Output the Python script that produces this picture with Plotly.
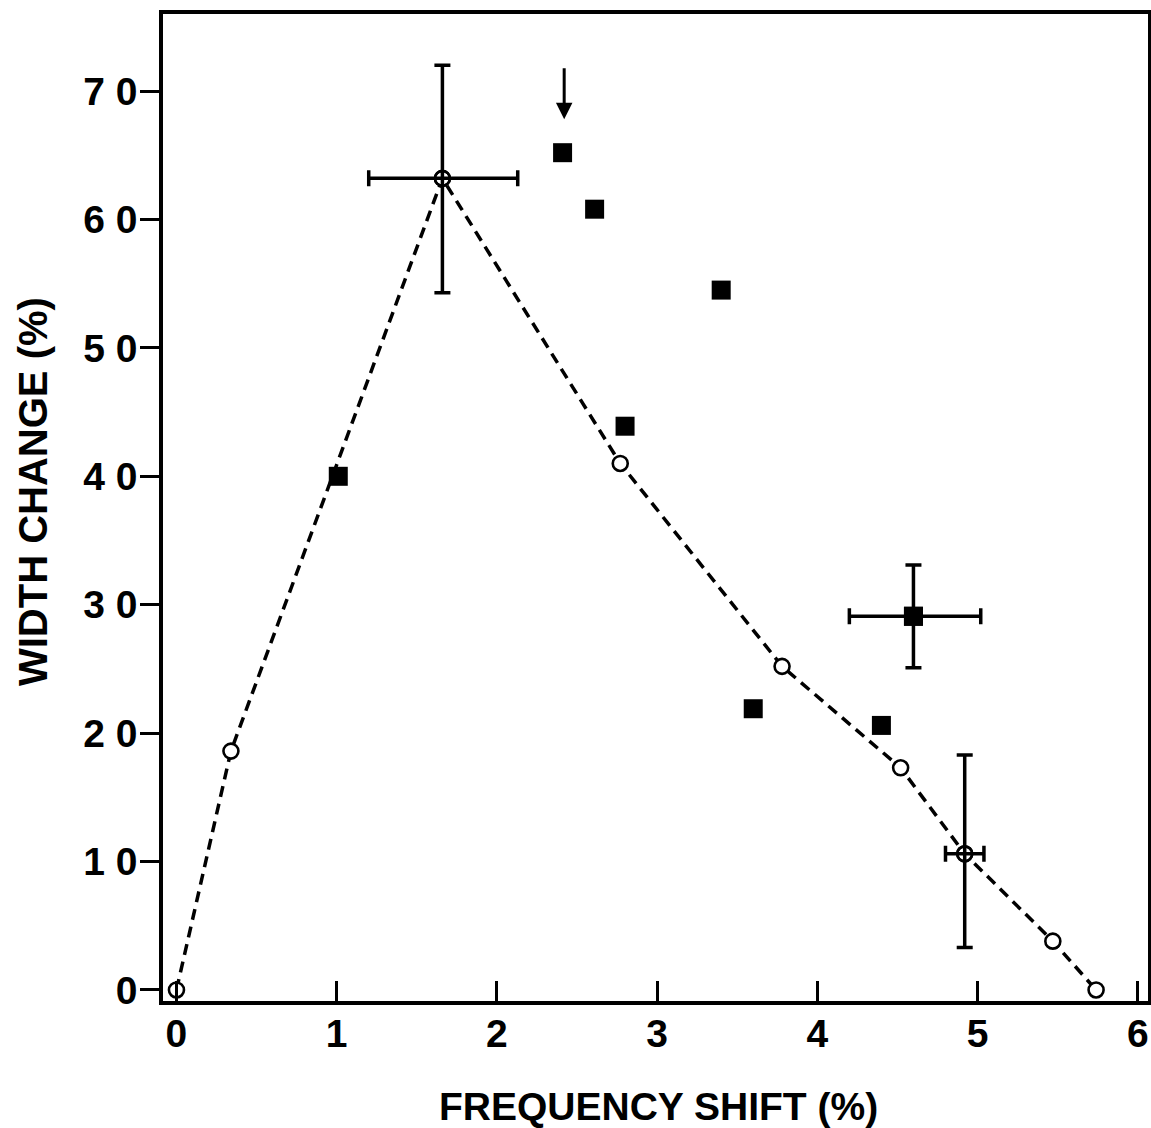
import plotly.graph_objects as go

# Model curve (open circles joined by a dashed line)
model_shift = [0.0, 0.34, 1.66, 2.77, 3.78, 4.52, 4.92, 5.47, 5.74]
model_width = [0.0, 18.6, 63.2, 41.0, 25.2, 17.3, 10.6, 3.8, 0.0]

# Measured points (filled squares)
meas_shift = [1.01, 2.41, 2.61, 2.80, 3.40, 3.60, 4.40, 4.60]
meas_width = [40.0, 65.2, 60.8, 43.9, 54.5, 21.9, 20.6, 29.1]

# Points carrying error bars: (index into series, +y, -y, +x, -x)
model_err = [(2, 8.8, 8.9, 0.47, 0.46), (6, 7.7, 7.3, 0.12, 0.12)]
meas_err = [(7, 4.0, 4.0, 0.42, 0.40)]

# Arrow marking the first measured point
arrow_x = 2.42
arrow_from = 71.9
arrow_to = 67.8

y_ticks = [0, 10, 20, 30, 40, 50, 60, 70]
y_ticktext = ["0", "1 0", "2 0", "3 0", "4 0", "5 0", "6 0", "7 0"]
x_ticks = [0, 1, 2, 3, 4, 5, 6]
x_ticktext = ["0", "1", "2", "3", "4", "5", "6"]

FONT = "Liberation Sans, Arial, Helvetica, sans-serif"
INK = "black"

fig = go.Figure()

fig.add_trace(go.Scatter(
    x=model_shift, y=model_width, mode="lines+markers",
    line=dict(color=INK, width=3.5, dash="11px,7px"),
    marker=dict(symbol="circle", size=15, color="white",
                line=dict(color=INK, width=2.6)),
    showlegend=False, hoverinfo="skip",
))

fig.add_trace(go.Scatter(
    x=meas_shift, y=meas_width, mode="markers",
    marker=dict(symbol="square", size=19, color=INK, line=dict(width=0)),
    showlegend=False, hoverinfo="skip",
))


def error_trace(xs, ys, errs, marker):
    return go.Scatter(
        x=[xs[i] for i, *_ in errs],
        y=[ys[i] for i, *_ in errs],
        mode="markers",
        marker=marker,
        error_y=dict(type="data", symmetric=False,
                     array=[e[1] for e in errs],
                     arrayminus=[e[2] for e in errs],
                     color=INK, thickness=3.5, width=8),
        error_x=dict(type="data", symmetric=False,
                     array=[e[3] for e in errs],
                     arrayminus=[e[4] for e in errs],
                     color=INK, thickness=3.5, width=8),
        showlegend=False, hoverinfo="skip",
    )


fig.add_trace(error_trace(model_shift, model_width, model_err,
                          dict(symbol="circle-open", size=15, color=INK,
                               line=dict(color=INK, width=2.6))))
fig.add_trace(error_trace(meas_shift, meas_width, meas_err,
                          dict(symbol="square", size=19, color=INK)))

fig.add_annotation(
    x=arrow_x, y=arrow_to, ax=arrow_x, ay=arrow_from,
    xref="x", yref="y", axref="x", ayref="y",
    text="", showarrow=True, arrowhead=2, arrowsize=1.1,
    arrowwidth=3, arrowcolor=INK,
)

fig.add_annotation(
    text="FREQUENCY SHIFT (%)", xref="paper", yref="paper",
    x=(658 - 163) / 985, y=-(1106 - 1001) / 987,
    xanchor="center", yanchor="middle", showarrow=False,
    font=dict(family=FONT, size=39, color=INK, weight="bold"),
)
fig.add_annotation(
    text="WIDTH CHANGE (%)", xref="paper", yref="paper",
    x=(33 - 163) / 985, y=(1001 - 492) / 987,
    xanchor="center", yanchor="middle", textangle=-90, showarrow=False,
    font=dict(family=FONT, size=40, color=INK, weight="bold"),
)

axis_font = dict(family=FONT, size=39, color=INK, weight="bold")

fig.update_xaxes(
    range=[-0.084, 6.064], tickvals=x_ticks, ticktext=x_ticktext,
    ticks="inside", ticklen=20, tickwidth=3, tickcolor=INK,
    showline=True, linewidth=3.5, linecolor=INK, mirror=True,
    showgrid=False, zeroline=False, tickfont=axis_font,
    ticklabelstandoff=-5,
)
fig.update_yaxes(
    range=[-0.86, 76.0], tickvals=y_ticks, ticktext=y_ticktext,
    ticks="outside", ticklen=19, tickwidth=3, tickcolor=INK,
    showline=True, linewidth=3.5, linecolor=INK, mirror=True,
    showgrid=False, zeroline=False, tickfont=axis_font,
    ticklabelstandoff=-5,
)

fig.update_layout(
    width=1151, height=1128,
    margin=dict(l=163, r=3, t=14, b=127, autoexpand=False),
    paper_bgcolor="white", plot_bgcolor="white",
    showlegend=False,
)

fig.write_html("out.html")
